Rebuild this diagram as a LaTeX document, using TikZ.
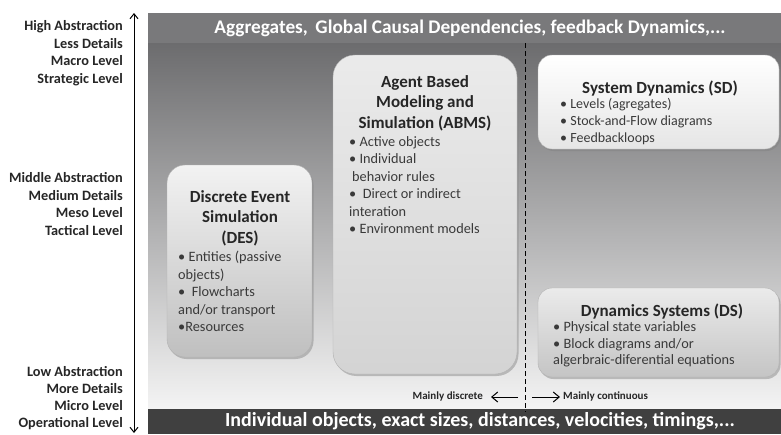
\documentclass[tikz,border=0pt]{standalone}
\usepackage{fontspec}
\setmainfont{Carlito}
\usetikzlibrary{arrows.meta,shadows}
\definecolor{bandtop}{HTML}{79797B}
\definecolor{bandbot}{HTML}{404040}
\definecolor{bgtop}{HTML}{6C6C6E}
\definecolor{bgbot}{HTML}{F4F4F4}
\definecolor{txt}{HTML}{262626}
\definecolor{btxt}{HTML}{3A3A3A}
\tikzset{
  lbl/.style={anchor=north east, inner sep=0pt, align=right, text=txt,
    font=\fontsize{14.3}{17.7}\selectfont\bfseries},
  band/.style={inner sep=0pt, text=white, font=\fontsize{19.3}{22}\selectfont\bfseries},
  box/.style={draw=black!30, line width=0.4pt, inner sep=0pt,
    drop shadow={opacity=0.45, shadow xshift=1.5pt, shadow yshift=-2pt}},
  ttl/.style={anchor=north, inner sep=0pt, align=center, text=txt,
    font=\fontsize{17}{20.5}\selectfont\bfseries},
  bul/.style={anchor=north west, inner sep=0pt, align=left, text=btxt,
    font=\fontsize{14.3}{17.4}\selectfont},
  axis/.style={line width=1pt, {Straight Barb[length=5pt,width=8pt]}-{Straight Barb[length=5pt,width=8pt]}},
  dir/.style={line width=1pt, -{Straight Barb[length=6pt,width=10pt]}},
  small/.style={inner sep=0pt, text=txt, font=\fontsize{11}{13}\selectfont\bfseries},
}
\begin{document}
\begin{tikzpicture}[x=1pt,y=-1pt]
\useasboundingbox (0,0) rectangle (781,434);
% background panel
\node[inner sep=0pt, minimum width=633pt, minimum height=366pt, anchor=north west,
  top color=bgtop, bottom color=bgbot, draw=none] (panel) at (148,43) {};
\node[inner sep=0pt, minimum width=633pt, minimum height=30pt, anchor=north west,
  fill=bandtop, draw=none] (topband) at (148,13) {};
\node[inner sep=0pt, minimum width=633pt, minimum height=25pt, anchor=north west,
  fill=bandbot, draw=none] (botband) at (148,409) {};
\node[band] (toptext) at (470,28) {Aggregates,\, Global Causal Dependencies, feedback Dynamics,...};
\node[band, font=\fontsize{20}{22}\selectfont\bfseries] (bottext) at (480,421) {Individual objects, exact sizes, distances, velocities, timings,...};
% axis
\coordinate (axtop) at (134,13);
\coordinate (axbot) at (134,433);
\draw[axis] (axbot) -- (axtop);
\node[lbl] (high) at (123,20.3) {High Abstraction\\Less Details\\Macro Level\\Strategic Level};
\node[lbl] (mid) at (123,172.3) {Middle Abstraction\\Medium Details\\Meso Level\\Tactical Level};
\node[lbl, font=\fontsize{14.3}{17}\selectfont\bfseries] (low) at (123,366.5) {Low Abstraction\\More Details\\Micro Level\\Operational Level};
% dashed divider
\coordinate (dtop) at (525,43);
\coordinate (dbot) at (525,412);
\draw[line width=1pt, dash pattern=on 5pt off 3pt] (dtop) -- (dbot);
% boxes
\node[box, rounded corners=18pt, minimum width=145pt, minimum height=192pt,
  top color=white!95!black, bottom color=black!25] (des) at (239.5,261) {};
\node[box, rounded corners=22pt, minimum width=184pt, minimum height=319pt,
  top color=white!92!black, bottom color=white!83!black] (abms) at (425,214.5) {};
\node[box, rounded corners=14pt, minimum width=241pt, minimum height=94pt,
  top color=white, bottom color=white!90!black] (sd) at (658.5,102) {};
\node[box, rounded corners=14pt, minimum width=241pt, minimum height=89pt,
  top color=white!92!black, bottom color=white!77!black] (ds) at (658.5,332.5) {};
% texts
\node[ttl] (destitle) at (240,190.2) {Discrete Event\\Simulation\\(DES)};
\node[bul] (desbul) at (178,251.3) {• Entities (passive\\objects)\\•\ \ Flowcharts\\and/or transport\\•Resources};
\node[ttl] (abmstitle) at (425,75.2) {Agent Based\\Modeling and\\Simulation (ABMS)};
\node[bul] (abmsbul) at (349,136.3) {• Active objects\\• Individual\\\hspace{3pt}behavior rules\\•\ \ Direct or indirect\\interation\\• Environment models};
\node[ttl] (sdtitle) at (660,80.2) {System Dynamics (SD)};
\node[bul, font=\fontsize{14}{17}\selectfont] (sdbul) at (560,98.5) {• Levels (agregates)\\• Stock-and-Flow diagrams\\• Feedbackloops};
\node[ttl] (dstitle) at (662,303.2) {Dynamics Systems (DS)};
\node[bul, font=\fontsize{14.3}{16.6}\selectfont] (dsbul) at (553,321.3) {• Physical state variables\\• Block diagrams and/or\\algerbraic-diferential equations};
% discrete / continuous
\coordinate (lstart) at (518,397);
\coordinate (lend) at (491,397);
\coordinate (rstart) at (532,397);
\coordinate (rend) at (560,397);
\draw[dir] (lstart) -- (lend);
\draw[dir] (rstart) -- (rend);
\node[small, anchor=east] (disc) at (483,396) {Mainly discrete};
\node[small, anchor=west] (cont) at (563,396) {Mainly continuous};
\end{tikzpicture}
\end{document}
